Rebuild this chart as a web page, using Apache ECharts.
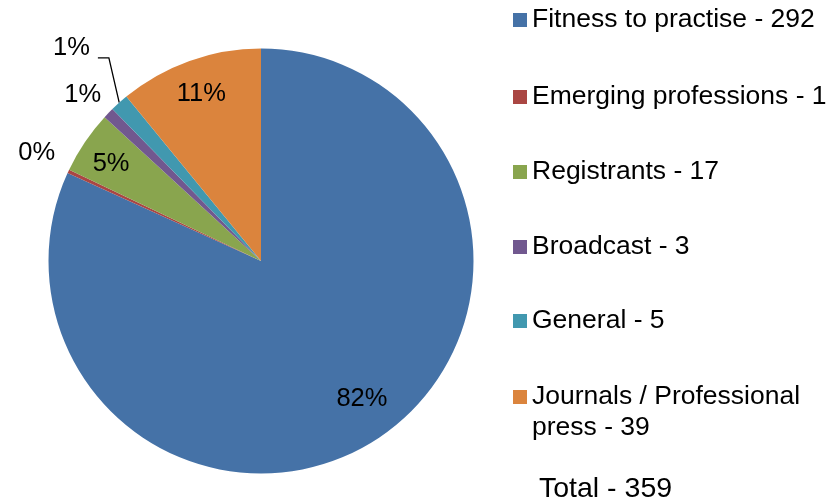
<!DOCTYPE html>
<html>
<head>
<meta charset="utf-8">
<script src="https://cdn.jsdelivr.net/npm/echarts@6/dist/echarts.min.js"></script>
<style>
  html, body { margin: 0; padding: 0; background: #fff; }
  #chart { width: 838px; height: 504px; }
</style>
</head>
<body>
<div id="chart"></div>
<script>
const categories = ['Fitness to practise', 'Emerging professions', 'Registrants', 'Broadcast', 'General', 'Journals / Professional press']
const values = [292, 1, 17, 3, 5, 39]
const colors = ['#4572a7', '#aa4643', '#89a54e', '#71588f', '#4198af', '#db843d']
const totalLabel = 'Total - 359'

const font = 'Liberation Sans, Arial, sans-serif'
const insideLabels = [0, 2, 5]
const lineShown = [4]
// nudges for labels, keyed by data index
const outsideShift = { 1: [19, -10], 3: [21, -4], 4: [-2, -40] }
const insideShift = { 0: [5, -11], 2: [-3, 2] }

const chart = echarts.init(document.getElementById('chart'))

const pct = p => Math.round(p.percent) + '%'

const mainData = categories.map((name, i) => ({
  name,
  value: values[i],
  itemStyle: { color: colors[i] },
  label: { show: !insideLabels.includes(i) },
  labelLine: { show: lineShown.includes(i) }
}))

const labelData = categories.map((name, i) => ({
  name,
  value: values[i],
  label: { show: insideLabels.includes(i) }
}))

const iconCenters = [20, 97, 172, 247, 321, 397]
const legends = categories.map((name, i) => {
  const wrap = i === 5
  return {
    orient: 'vertical',
    left: 513,
    top: iconCenters[i] - (wrap ? 46.5 : 15.5),
    padding: 0,
    itemGap: 0,
    itemWidth: 14,
    itemHeight: 14,
    icon: 'rect',
    selectedMode: false,
    data: [name],
    formatter: n => wrap ? '\nJournals / Professional\npress - ' + values[i] : n + ' - ' + values[i],
    textStyle: {
      fontFamily: font,
      fontSize: 26.5,
      color: '#000',
      lineHeight: 31
    }
  }
})

chart.setOption({
  animation: false,
  legend: legends,
  graphic: [{
    type: 'text',
    left: 539,
    top: 475,
    style: { text: totalLabel, font: '28.5px ' + font, fill: '#000' }
  }],
  series: [
    {
      name: 'main',
      type: 'pie',
      center: [261, 261],
      radius: 212.5,
      startAngle: 90,
      clockwise: true,
      avoidLabelOverlap: false,
      silent: true,
      itemStyle: { borderWidth: 0 },
      label: {
        position: 'outside',
        formatter: pct,
        fontFamily: font,
        fontSize: 25.5,
        color: '#000',
        distanceToLabelLine: 4
      },
      labelLine: {
        length: 20,
        length2: 10,
        lineStyle: { color: '#000', width: 1.3 }
      },
      labelLayout: p => {
        const s = outsideShift[p.dataIndex]
        if (!s) return {}
        const r = p.labelRect
        const x = r.x + r.width + s[0]
        const y = r.y + r.height / 2 + s[1]
        if (!lineShown.includes(p.dataIndex)) return { x, y }
        // leader: horizontal stub under the label's right side, then down to the slice
        return {
          x,
          y,
          labelLinePoints: [p.labelLinePoints[0], [x + 19, y + 10], [x + 8, y + 10]]
        }
      },
      data: mainData
    },
    {
      name: 'labels',
      type: 'pie',
      center: [261, 261],
      radius: [136, 212.5],
      startAngle: 90,
      clockwise: true,
      silent: true,
      itemStyle: { color: 'transparent' },
      label: {
        position: 'inside',
        formatter: pct,
        fontFamily: font,
        fontSize: 25.5,
        color: '#000'
      },
      labelLine: { show: false },
      labelLayout: p => {
        const s = insideShift[p.dataIndex]
        return s ? { dx: s[0], dy: s[1] } : {}
      },
      data: labelData
    }
  ]
})
</script>
</body>
</html>
